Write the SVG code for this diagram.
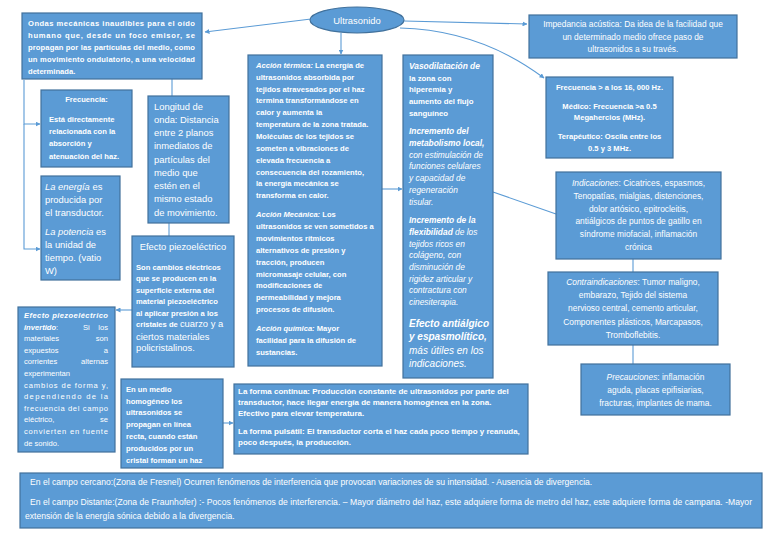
<svg xmlns="http://www.w3.org/2000/svg" width="768" height="543" viewBox="0 0 768 543">
<defs>
<style>
.box{fill:#5B9BD5;stroke:#41719C;stroke-width:1.2}
text{font-family:"Liberation Sans",Arial,sans-serif;fill:#fff}
.s{font-size:7.6px}
.sb{font-size:7.6px;font-weight:bold}
.fb{font-size:8px;font-weight:bold}
.xs{font-size:8.6px}
.m{font-size:8.4px}
.l{font-size:9.4px}
.vi{font-size:8.4px;font-style:italic}
.vb{font-size:7.8px;font-weight:bold}
.vh{font-size:8.4px;font-weight:bold;font-style:italic}
.vl{font-size:10px;font-style:italic}
.c{text-anchor:middle}
.i{font-style:italic}
.b{font-weight:bold}
.conn{stroke:#5B9BD5;stroke-width:1.1;fill:none}
.ar{marker-end:url(#ah)}
</style>
<marker id="ah" viewBox="0 0 10 10" refX="9" refY="5" markerWidth="5" markerHeight="5" orient="auto" markerUnits="userSpaceOnUse">
<path d="M0,0 L10,5 L0,10 z" fill="#5B9BD5"/>
</marker>
</defs>
<rect width="768" height="543" fill="#fff"/>

<g id="connectors">
<path class="conn ar" d="M311,19 L205,32"/>
<path class="conn ar" d="M341,33 L341,54"/>
<path class="conn ar" d="M404,21 L527,24"/>
<path class="conn ar" d="M400,28 Q480,30 544,78"/>
<path class="conn ar" d="M24,80 L24,124 L40,124"/>
<path class="conn ar" d="M24,124 L24,249 L40,249"/>
<path class="conn" d="M172,79 L172,96"/>
<path class="conn" d="M169,223 L169,236"/>
<path class="conn ar" d="M132,310 L116,310"/>
<path class="conn ar" d="M223,423 L233,423"/>
<path class="conn ar" d="M382,189 L402,189"/>
<path class="conn" d="M493,192 L556,214"/>
<path class="conn" d="M633,259 L633,272"/>
<path class="conn" d="M633,345 L633,364"/>
</g>

<g id="ultrasonido">
<ellipse class="box" cx="357" cy="20" rx="47" ry="13"/>
<text class="l c" x="357" y="23.5">Ultrasonido</text>
</g>

<g id="ondas">
<rect class="box" x="22" y="13" width="180" height="66"/>
<text class="sb" x="28" y="25.5" textLength="167" lengthAdjust="spacing">Ondas mecánicas inaudibles para el oído</text>
<text class="sb" x="28" y="37.5" textLength="167" lengthAdjust="spacing">humano que, desde un foco emisor, se</text>
<text class="sb" x="28" y="49.5" textLength="167" lengthAdjust="spacing">propagan por las partículas del medio, como</text>
<text class="sb" x="28" y="61.5" textLength="167" lengthAdjust="spacing">un movimiento ondulatorio, a una velocidad</text>
<text class="sb" x="28" y="73.5">determinada.</text>
</g>

<g id="frecuencia">
<rect class="box" x="41" y="90" width="91" height="77"/>
<text class="sb c" x="86.5" y="102">Frecuencia:</text>
<text class="sb" x="49" y="122">Está directamente</text>
<text class="sb" x="49" y="134">relacionada con la</text>
<text class="sb" x="49" y="146">absorción y</text>
<text class="sb" x="49" y="158.5">atenuación del haz.</text>
</g>

<g id="longitud">
<rect class="box" x="148" y="96" width="81" height="127"/>
<text class="l" x="154" y="109.5">Longitud de</text>
<text class="l" x="154" y="122.7">onda: Distancia</text>
<text class="l" x="154" y="136">entre 2 planos</text>
<text class="l" x="154" y="149.2">inmediatos de</text>
<text class="l" x="154" y="162.5">partículas del</text>
<text class="l" x="154" y="175.7">medio que</text>
<text class="l" x="154" y="189">estén en el</text>
<text class="l" x="154" y="202.2">mismo estado</text>
<text class="l" x="154" y="215.5">de movimiento.</text>
</g>

<g id="energia">
<rect class="box" x="41" y="176" width="79" height="104"/>
<text class="l" x="45" y="189.5"><tspan class="i">La energía</tspan> es</text>
<text class="l" x="45" y="202.5">producida por</text>
<text class="l" x="45" y="215.5">el transductor.</text>
<text class="l" x="45" y="234.5"><tspan class="i">La potencia</tspan> es</text>
<text class="l" x="45" y="247.5">la unidad de</text>
<text class="l" x="45" y="260.5">tiempo. (vatio</text>
<text class="l" x="45" y="273.5">W)</text>
</g>

<g id="piezo">
<rect class="box" x="132" y="236" width="102" height="131"/>
<text class="l c" x="183" y="250">Efecto piezoeléctrico</text>
<text class="sb" x="136" y="269.5">Son cambios eléctricos</text>
<text class="sb" x="136" y="281">que se producen en la</text>
<text class="sb" x="136" y="292.5">superficie externa del</text>
<text class="sb" x="136" y="304">material piezoeléctrico</text>
<text class="sb" x="136" y="315.5">al aplicar presión a los</text>
<text class="sb" x="136" y="327.3">cristales de <tspan class="l" font-weight="normal">cuarzo y a</tspan></text>
<text class="l" x="136" y="339.5">ciertos materiales</text>
<text class="l" x="136" y="351">policristalinos.</text>
</g>

<g id="invertido">
<rect class="box" x="18" y="307" width="97" height="145"/>
<text class="s b i" x="24" y="318" textLength="84" lengthAdjust="spacing">Efecto piezoeléctrico</text>
<text class="s" x="24" y="329.6"><tspan class="b i">invertido</tspan>:</text>
<text class="s" x="83" y="329.6">Si</text>
<text class="s" x="108" y="329.6" text-anchor="end">los</text>
<text class="s" x="24" y="341.2">materiales</text>
<text class="s" x="108" y="341.2" text-anchor="end">son</text>
<text class="s" x="24" y="352.8">expuestos</text>
<text class="s" x="108" y="352.8" text-anchor="end">a</text>
<text class="s" x="24" y="364.4">corrientes</text>
<text class="s" x="108" y="364.4" text-anchor="end">alternas</text>
<text class="s" x="24" y="376">experimentan</text>
<text class="s" x="24" y="387.6" textLength="84" lengthAdjust="spacing">cambios de forma y,</text>
<text class="s" x="24" y="399.2" textLength="84" lengthAdjust="spacing">dependiendo de la</text>
<text class="s" x="24" y="410.8" textLength="84" lengthAdjust="spacing">frecuencia del campo</text>
<text class="s" x="24" y="422.4">eléctrico,</text>
<text class="s" x="108" y="422.4" text-anchor="end">se</text>
<text class="s" x="24" y="434" textLength="84" lengthAdjust="spacing">convierten en fuente</text>
<text class="s" x="24" y="445.6">de sonido.</text>
</g>

<g id="medio">
<rect class="box" x="121" y="379" width="102" height="89"/>
<text class="sb" x="126" y="391.8">En un medio</text>
<text class="sb" x="126" y="403.6">homogéneo los</text>
<text class="sb" x="126" y="415.4">ultrasonidos se</text>
<text class="sb" x="126" y="427.2">propagan en línea</text>
<text class="sb" x="126" y="439">recta, cuando están</text>
<text class="sb" x="126" y="450.8">producidos por un</text>
<text class="sb" x="126" y="462.6">cristal forman un haz</text>
</g>

<g id="forma">
<rect class="box" x="234" y="384" width="294" height="70"/>
<text class="fb" x="238" y="394.3">La forma continua: Producción constante de ultrasonidos por parte del</text>
<text class="fb" x="238" y="405.3">transductor, hace llegar energía de manera homogénea en la zona.</text>
<text class="fb" x="238" y="416.3">Efectivo para elevar temperatura.</text>
<text class="fb" x="238" y="433.8">La forma pulsátil: El transductor corta el haz cada poco tiempo y reanuda,</text>
<text class="fb" x="238" y="445.3">poco después, la producción.</text>
</g>

<g id="acciones">
<rect class="box" x="248" y="55" width="134" height="311"/>
<text class="sb" x="256" y="67.8"><tspan class="i">Acción térmica:</tspan> La energía de</text>
<text class="sb" x="256" y="79.7">ultrasonidos absorbida por</text>
<text class="sb" x="256" y="91.5">tejidos atravesados por el haz</text>
<text class="sb" x="256" y="103.4">termina transformándose en</text>
<text class="sb" x="256" y="115.2">calor y aumenta la</text>
<text class="sb" x="256" y="127.1">temperatura de la zona tratada.</text>
<text class="sb" x="256" y="139">Moléculas de los tejidos se</text>
<text class="sb" x="256" y="150.8">someten a vibraciones de</text>
<text class="sb" x="256" y="162.7">elevada frecuencia a</text>
<text class="sb" x="256" y="174.5">consecuencia del rozamiento,</text>
<text class="sb" x="256" y="186.4">la energía mecánica se</text>
<text class="sb" x="256" y="198.3">transforma en calor.</text>
<text class="sb" x="256" y="217.2"><tspan class="i">Acción Mecánica:</tspan> Los</text>
<text class="sb" x="256" y="229.1">ultrasonidos se ven sometidos a</text>
<text class="sb" x="256" y="240.9">movimientos rítmicos</text>
<text class="sb" x="256" y="252.8">alternativos de presión y</text>
<text class="sb" x="256" y="264.6">tracción, producen</text>
<text class="sb" x="256" y="276.5">micromasaje celular, con</text>
<text class="sb" x="256" y="288.4">modificaciones de</text>
<text class="sb" x="256" y="300.2">permeabilidad y mejora</text>
<text class="sb" x="256" y="312.1">procesos de difusión.</text>
<text class="sb" x="256" y="331.1"><tspan class="i">Acción química:</tspan> Mayor</text>
<text class="sb" x="256" y="342.9">facilidad para la difusión de</text>
<text class="sb" x="256" y="354.8">sustancias.</text>
</g>

<g id="efectos">
<rect class="box" x="403" y="55" width="90" height="323"/>
<text class="vh" x="409" y="68.8">Vasodilatación de</text>
<text class="vb" x="409" y="80.5">la zona con</text>
<text class="vb" x="409" y="92.2">hiperemia y</text>
<text class="vb" x="409" y="103.9">aumento del flujo</text>
<text class="vb" x="409" y="115.6">sanguíneo</text>
<text class="vh" x="409" y="134.3">Incremento del</text>
<text class="vh" x="409" y="146">metabolismo local,</text>
<text class="vi" x="409" y="157.7">con estimulación de</text>
<text class="vi" x="409" y="169.4">funciones celulares</text>
<text class="vi" x="409" y="181.1">y capacidad de</text>
<text class="vi" x="409" y="192.8">regeneración</text>
<text class="vi" x="409" y="204.5">tisular.</text>
<text class="vh" x="409" y="223.2">Incremento de la</text>
<text class="vi" x="409" y="234.9"><tspan class="b">flexibilidad</tspan> de los</text>
<text class="vi" x="409" y="246.6">tejidos ricos en</text>
<text class="vi" x="409" y="258.3">colágeno, con</text>
<text class="vi" x="409" y="270">disminución de</text>
<text class="vi" x="409" y="281.7">rigidez articular y</text>
<text class="vi" x="409" y="293.4">contractura con</text>
<text class="vi" x="409" y="305.1">cinesiterapia.</text>
<text class="vl b" x="409" y="326.5">Efecto antiálgico</text>
<text class="vl b" x="409" y="340">y espasmolítico,</text>
<text class="vl" x="409" y="353.5">más útiles en los</text>
<text class="vl" x="409" y="367">indicaciones.</text>
</g>

<g id="impedancia">
<rect class="box" x="529" y="15" width="208" height="43"/>
<text class="m c" x="633" y="27">Impedancia acústica: Da idea de la facilidad que</text>
<text class="m c" x="633" y="39.5">un determinado medio ofrece paso de</text>
<text class="m c" x="633" y="52">ultrasonidos a su través.</text>
</g>

<g id="frecuencias">
<rect class="box" x="546" y="77" width="127" height="81"/>
<text class="sb c" x="609.5" y="89.7">Frecuencia &gt; a los 16, 000 Hz.</text>
<text class="sb c" x="609.5" y="108.7">Médico: Frecuencia &gt;a 0.5</text>
<text class="sb c" x="609.5" y="120.4">Megahercios (MHz).</text>
<text class="sb c" x="609.5" y="139.4">Terapéutico: Oscila entre los</text>
<text class="sb c" x="609.5" y="151">0.5 y 3 MHz.</text>
</g>

<g id="indicaciones">
<rect class="box" x="556" y="172" width="165" height="87"/>
<text class="m c" x="638.5" y="186"><tspan class="i">Indicaciones</tspan>: Cicatrices, espasmos,</text>
<text class="m c" x="638.5" y="198.8">Tenopatías, mialgias, distenciones,</text>
<text class="m c" x="638.5" y="211.6">dolor artósico, epitrocleitis,</text>
<text class="m c" x="638.5" y="224.4">antiálgicos de puntos de gatillo en</text>
<text class="m c" x="638.5" y="237.2">síndrome miofacial, inflamación</text>
<text class="m c" x="638.5" y="250">crónica</text>
</g>

<g id="contraindicaciones">
<rect class="box" x="548" y="272" width="170" height="73"/>
<text class="m c" x="633" y="285"><tspan class="i">Contraindicaciones</tspan>: Tumor maligno,</text>
<text class="m c" x="633" y="298.2">embarazo, Tejido del sistema</text>
<text class="m c" x="633" y="311.4">nervioso central, cemento articular,</text>
<text class="m c" x="633" y="324.6">Componentes plásticos, Marcapasos,</text>
<text class="m c" x="633" y="337.8">Tromboflebitis.</text>
</g>

<g id="precauciones">
<rect class="box" x="581" y="364" width="149" height="51"/>
<text class="m c" x="655.5" y="380"><tspan class="i">Precauciones</tspan>: inflamación</text>
<text class="m c" x="655.5" y="392.5">aguda, placas epifisiarias,</text>
<text class="m c" x="655.5" y="405.5">fracturas, implantes de mama.</text>
</g>

<g id="campos">
<rect class="box" x="20" y="473" width="742" height="55"/>
<text class="xs" x="30" y="485">En el campo cercano:(Zona de Fresnel) Ocurren fenómenos de interferencia que provocan variaciones de su intensidad. - Ausencia de divergencia.</text>
<text class="xs" x="30" y="505" textLength="722" lengthAdjust="spacing">En el campo Distante:(Zona de Fraunhofer) :- Pocos fenómenos de interferencia. – Mayor diámetro del haz, este adquiere forma de metro del haz, este adquiere forma de campana.  -Mayor</text>
<text class="xs" x="25" y="518.5">extensión de la energía sónica  debido a la divergencia.</text>
</g>
</svg>
